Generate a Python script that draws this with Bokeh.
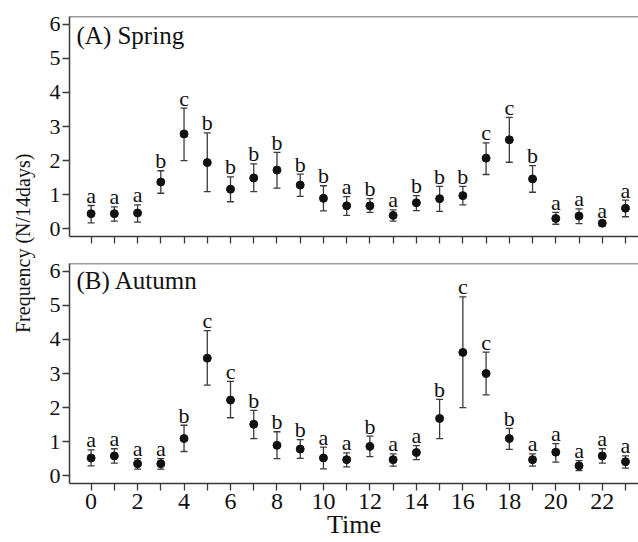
import numpy as np
from bokeh.plotting import figure
from bokeh.layouts import row, column
from bokeh.models import ColumnDataSource, Whisker, TeeHead, FixedTicker, Span, Label, Range1d
from bokeh.embed import file_html
from bokeh.resources import INLINE
from bokeh.core.properties import value

# ---- data ----
hours = list(range(24))
labelled_hours = [h for h in hours if h % 2 == 0]
unlabelled_hours = [h for h in hours if h % 2 == 1]
y_ticks = [0, 1, 2, 3, 4, 5, 6]

spring_mean = [0.44, 0.44, 0.46, 1.37, 2.78, 1.94, 1.16, 1.49, 1.72, 1.28, 0.89, 0.67,
               0.67, 0.39, 0.76, 0.88, 0.97, 2.07, 2.61, 1.46, 0.30, 0.37, 0.16, 0.60]
spring_upper = [0.68, 0.64, 0.70, 1.70, 3.54, 2.81, 1.52, 1.90, 2.24, 1.60, 1.26, 0.94,
                0.88, 0.55, 0.97, 1.24, 1.24, 2.52, 3.27, 1.85, 0.48, 0.58, 0.23, 0.84]
spring_lower = [0.17, 0.22, 0.19, 1.04, 2.00, 1.09, 0.79, 1.09, 1.19, 0.95, 0.52, 0.39,
                0.48, 0.22, 0.53, 0.51, 0.70, 1.59, 1.95, 1.07, 0.13, 0.15, 0.08, 0.35]
spring_group = ["a", "a", "a", "b", "c", "b", "b", "b", "b", "b", "b", "a",
                "b", "a", "b", "b", "b", "c", "c", "b", "a", "a", "a", "a"]

autumn_mean = [0.52, 0.58, 0.35, 0.35, 1.09, 3.45, 2.22, 1.51, 0.89, 0.78, 0.52, 0.47,
               0.86, 0.47, 0.68, 1.68, 3.62, 3.00, 1.09, 0.47, 0.69, 0.29, 0.58, 0.41]
autumn_upper = [0.76, 0.79, 0.50, 0.50, 1.48, 4.26, 2.77, 1.92, 1.29, 1.06, 0.84, 0.67,
                1.16, 0.64, 0.88, 2.24, 5.25, 3.63, 1.39, 0.64, 0.94, 0.44, 0.79, 0.58]
autumn_lower = [0.29, 0.37, 0.19, 0.19, 0.71, 2.66, 1.70, 1.09, 0.50, 0.51, 0.20, 0.26,
                0.56, 0.28, 0.47, 1.09, 2.00, 2.37, 0.77, 0.28, 0.40, 0.15, 0.37, 0.22]
autumn_group = ["a", "a", "a", "a", "b", "c", "c", "b", "b", "b", "a", "a",
                "b", "a", "a", "b", "c", "c", "b", "a", "a", "a", "a", "a"]

FONT = "Liberation Serif"
X_START, X_END = -0.93, 23.56
Y_START, Y_END = -0.23, 6.23
AXIS_COLOR = "#3a3a3a"
TEXT_COLOR = "#111111"


def panel(title, mean, upper, lower, group, height, top, bottom, title_dy, show_x):
    src = ColumnDataSource(dict(x=hours, mean=mean, upper=upper, lower=lower, group=group))
    p = figure(width=600, height=height,
               x_range=Range1d(X_START, X_END), y_range=Range1d(Y_START, Y_END),
               output_backend="svg", toolbar_location=None,
               min_border_left=31, min_border_right=0,
               min_border_top=top, min_border_bottom=bottom)
    p.outline_line_color = None
    p.grid.visible = False

    wh = Whisker(source=src, base="x", upper="upper", lower="lower",
                 line_color="#3c3c3c", line_width=1.3,
                 upper_head=TeeHead(size=7, line_color="#3c3c3c", line_width=1.3),
                 lower_head=TeeHead(size=7, line_color="#3c3c3c", line_width=1.3))
    p.add_layout(wh)
    p.scatter("x", "mean", source=src, size=8, color="#111111")
    p.text("x", "upper", text="group", source=src, text_font=value(FONT),
           text_font_size=value("22px"), text_align="center", text_baseline="alphabetic",
           y_offset=-10, text_color=TEXT_COLOR)

    p.add_layout(Span(location=Y_END, dimension="width", line_color=AXIS_COLOR, line_width=1.5))

    p.add_layout(Label(x=X_START, y=Y_END, x_offset=7, y_offset=title_dy, text=title,
                       text_font=FONT, text_font_size="25px", text_color=TEXT_COLOR,
                       text_baseline="alphabetic"))

    for ax in (p.xaxis[0], p.yaxis[0]):
        ax.axis_line_color = AXIS_COLOR
        ax.axis_line_width = 1.5
        ax.major_tick_line_color = AXIS_COLOR
        ax.major_tick_line_width = 1.3
        ax.major_tick_in = 0
        ax.major_tick_out = 7
        ax.minor_tick_line_color = AXIS_COLOR
        ax.minor_tick_line_width = 1.3
        ax.minor_tick_in = 0
        ax.minor_tick_out = 7
        ax.major_label_text_font = FONT
        ax.major_label_text_color = TEXT_COLOR

    p.yaxis.ticker = FixedTicker(ticks=y_ticks, minor_ticks=[])
    p.yaxis.major_label_standoff = 2
    p.yaxis.major_label_text_font_size = "22px"

    if show_x:
        p.xaxis.ticker = FixedTicker(ticks=labelled_hours, minor_ticks=unlabelled_hours)
        p.xaxis.major_label_text_font_size = "24px"
        p.xaxis.major_label_standoff = 3
        p.xaxis.axis_label = "Time"
        p.xaxis.axis_label_text_font = FONT
        p.xaxis.axis_label_text_font_size = "26px"
        p.xaxis.axis_label_text_font_style = "normal"
        p.xaxis.axis_label_text_color = TEXT_COLOR
        p.xaxis.axis_label_standoff = -2
    else:
        p.xaxis.ticker = FixedTicker(ticks=[], minor_ticks=hours)
    return p


pa = panel("(A) Spring", spring_mean, spring_upper, spring_lower, spring_group,
           height=249, top=16, bottom=13, title_dy=-19, show_x=False)
pb = panel("(B) Autumn", autumn_mean, autumn_upper, autumn_lower, autumn_group,
           height=293, top=14, bottom=59, title_dy=-17, show_x=True)

lab = figure(width=38, height=542, x_range=Range1d(0, 1), y_range=Range1d(0, 1),
             output_backend="svg", toolbar_location=None, min_border=0,
             x_axis_location=None, y_axis_location=None)
lab.outline_line_color = None
lab.grid.visible = False
lab.text(x=[0.58], y=[0.552], text=["Frequency (N/14days)"], angle=np.pi / 2,
         text_align="center", text_baseline="middle", text_font=value(FONT),
         text_font_size=value("20px"), text_color=TEXT_COLOR)

layout = row(lab, column(pa, pb))
open("out.html", "w").write(file_html(layout, INLINE))
